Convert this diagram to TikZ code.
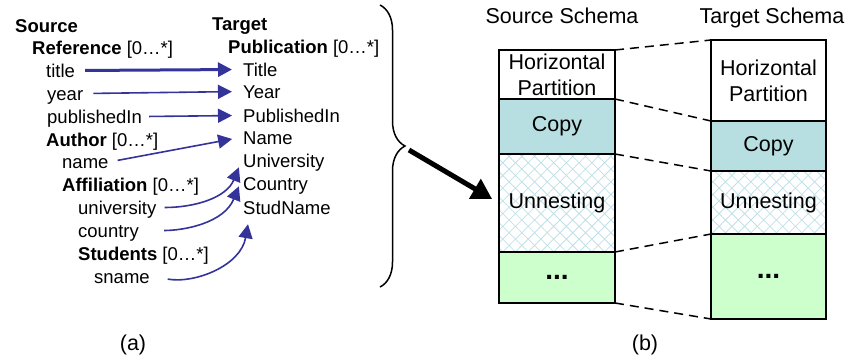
\documentclass[tikz,border=0pt]{standalone}
\usepackage{fontspec}
\setmainfont{Liberation Sans}
\usepackage{xcolor}
\definecolor{colorMap}{RGB}{51,51,153}
\definecolor{colorCopy}{RGB}{183,222,224}
\definecolor{colorRest}{RGB}{204,255,204}
\definecolor{colorHatch}{RGB}{192,224,232}
\usetikzlibrary{arrows.meta, positioning, patterns.meta, decorations.pathreplacing}
\newcommand{\attrfont}{\fontsize{18.5}{22}\selectfont}
\newcommand{\blkfont}{\fontsize{21.5}{26}\selectfont}
\newcommand{\dotsfont}{\fontsize{28}{30}\selectfont\bfseries}
\tikzset{
  attr/.style={anchor=base west, inner sep=3pt, text height=14pt, text depth=1pt, font=\attrfont},
  map/.style={-{Triangle[length=14pt,width=14pt]}, colorMap, line width=1.6pt, shorten <=7pt, shorten >=8pt},
  blk/.style={draw, line width=1.5pt, minimum width=116pt, inner sep=0pt, outer sep=0pt, align=center, font=\blkfont},
  hatch/.style={preaction={pattern color=colorHatch, pattern={Lines[angle=45,distance=9pt,line width=0.8pt]}},
                preaction={pattern color=colorHatch, pattern={Lines[angle=-45,distance=9pt,line width=0.8pt]}}},
  link/.style={line width=1.5pt, dash pattern=on 9pt off 6pt},
}

\begin{document}
\begin{tikzpicture}[x=1pt, y=1pt]
\useasboundingbox (0,0) rectangle (849,-360);
% (a) source and target elements
\node[attr, font=\attrfont\bfseries] (srcHead) at (12,-32) {Source};
\node[attr] (srcRef) at (29,-54) {\textbf{Reference} [0…*]};
\node[attr] (srcTitle) at (43,-77) {title};
\node[attr] (srcYear) at (44,-100) {year};
\node[attr] (srcPubIn) at (44,-123) {publishedIn};
\node[attr] (srcAuthor) at (43,-146) {\textbf{Author} [0…*]};
\node[attr] (srcName) at (59,-168) {name};
\node[attr] (srcAffil) at (59,-191) {\textbf{Affiliation} [0…*]};
\node[attr] (srcUniv) at (75,-214) {university};
\node[attr] (srcCountry) at (75,-237) {country};
\node[attr] (srcStud) at (75,-260) {\textbf{Students} [0…*]};
\node[attr] (srcSname) at (91,-283) {sname};

\node[attr, font=\attrfont\bfseries] (tgtHead) at (209,-30) {Target};
\node[attr] (tgtPub) at (225,-53) {\textbf{Publication} [0…*]};
\node[attr] (tgtTitle) at (240,-76) {Title};
\node[attr] (tgtYear) at (240,-98) {Year};
\node[attr] (tgtPubIn) at (240,-122) {PublishedIn};
\node[attr] (tgtName) at (240,-144) {Name};
\node[attr] (tgtUniv) at (240,-167) {University};
\node[attr] (tgtCountry) at (240,-190) {Country};
\node[attr] (tgtStud) at (240,-214) {StudName};

% correspondences
\draw[map, line width=3pt] (srcTitle.east) -- (tgtTitle.west);
\draw[map] (srcYear.east) -- (tgtYear.west);
\draw[map, shorten <=4pt] (srcPubIn.east) -- (tgtPubIn.west);
\draw[map, shorten <=6pt] (srcName.east) -- (tgtName.west);
\draw[map, shorten <=5pt, shorten >=3pt] (srcUniv.east) to[out=0, in=-112] ([yshift=-4pt]tgtUniv.west);
\draw[map, shorten <=22pt, shorten >=3pt] (srcCountry.east) to[out=0, in=-112] (tgtCountry.west);
\draw[map, shorten <=15pt, shorten >=0pt] (srcSname.east) to[out=-10, in=-100] ([shift={(8pt,-6pt)}]tgtStud.south west);

\node[font=\blkfont, anchor=base] (capA) at (133,-350) {(a)};

% brace and arrow to (b)
\draw[line width=1.5pt, decorate, decoration={brace, amplitude=25pt}] (380,-5) -- (380,-287);
\coordinate (braceTip) at (409,-150);

% (b) schemas
\node[font=\blkfont, anchor=base] (srcSchema) at (562,-23) {Source Schema};
\node[font=\blkfont, anchor=base] (tgtSchema) at (772,-23) {Target Schema};

\node[blk, minimum height=49pt] (sHP) at (557,-74.5) {Horizontal\\Partition};
\node[blk, fill=colorCopy, minimum height=55pt, below=0pt of sHP] (sCopy) {Copy};
\node[blk, hatch, minimum height=98pt, below=0pt of sCopy] (sUnnest) {Unnesting};
\node[blk, fill=colorRest, minimum height=51pt, below=0pt of sUnnest] (sMore) {\dotsfont ...};

\node[blk, minimum height=81pt, minimum width=115pt] (tHP) at (768.5,-80.5) {Horizontal\\Partition};
\node[blk, fill=colorCopy, minimum height=50pt, minimum width=115pt, below=0pt of tHP] (tCopy) {Copy};
\node[blk, hatch, minimum height=63pt, minimum width=115pt, below=0pt of tCopy] (tUnnest) {Unnesting};
\node[blk, fill=colorRest, minimum height=85pt, minimum width=115pt, below=0pt of tUnnest] (tMore) {\dotsfont ...};

\draw[-{Triangle[length=20pt,width=22pt]}, line width=5pt, shorten >=8pt] (braceTip) -- (sUnnest.west);

\draw[link] (sHP.north east) -- (tHP.north west);
\draw[link] (sCopy.north east) -- (tCopy.north west);
\draw[link] (sUnnest.north east) -- (tUnnest.north west);
\draw[link] (sMore.north east) -- (tMore.north west);
\draw[link] (sMore.south east) -- (tMore.south west);

\node[font=\blkfont, anchor=base] (capB) at (645,-350) {(b)};
\end{tikzpicture}
\end{document}
